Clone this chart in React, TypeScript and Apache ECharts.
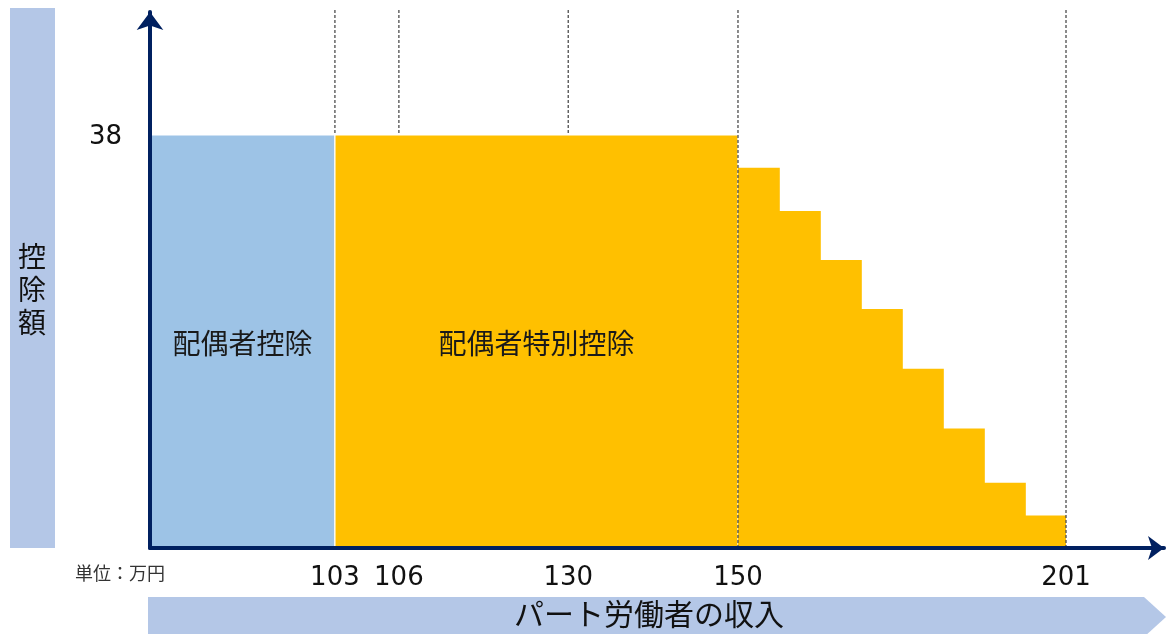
import React, { useEffect, useRef } from "react";
import * as echarts from "echarts";

// income tick labels (万円) and their schematic positions on the x axis
const incomeTicks = [103, 106, 130, 150, 201];
const tickPositions = [4.51, 6.07, 10.2, 14.34, 22.34];
// dashed guide lines: drawn behind bars (false) or in front (true)
const guideFront = [false, false, false, true, true];
// deduction values
const fullDeduction = 38;
const stepValues = [35, 31, 26.5, 22, 16.5, 11, 6, 3];
const segmentLabels = ["配偶者控除", "配偶者特別控除"];
const yTicks = [38];
const yTitleChars = ["控", "除", "額"];

const NAVY = "#002060";
const BLUE = "#9dc3e6";
const ORANGE = "#ffc000";
const PALE = "#b4c7e7";

export default function App() {
  const ref = useRef<HTMLDivElement>(null);
  useEffect(() => {
    document.body.style.margin = "0";
    const chart = echarts.init(ref.current!, null, { renderer: "svg" });
    const pos103 = tickPositions[0];
    const pos150 = tickPositions[3];
    const pos201 = tickPositions[4];
    const stepW = (pos201 - pos150) / stepValues.length;
    // [x0, x1, value, colourIndex, label, outlined]
    const bars: any[] = [
      [0, pos103, fullDeduction, 0, segmentLabels[0], 1],
      [pos103, pos150, fullDeduction, 1, segmentLabels[1], 1],
      ...stepValues.map((v, i) => [pos150 + i * stepW, pos150 + (i + 1) * stepW + (i < stepValues.length - 1 ? 0.02 : 0), v, 1, "", 0]),
    ];
    const back = tickPositions.filter((_, i) => !guideFront[i]).map((p) => [p]);
    const front = tickPositions.filter((_, i) => guideFront[i]).map((p) => [p]);
    const yMax = 49.32;
    const guideRender = (params: any, api: any) => {
      const x = api.value(0);
      const b = api.coord([x, 0]);
      const t = api.coord([x, yMax]);
      return {
        type: "line",
        shape: { x1: b[0], y1: b[1], x2: t[0], y2: t[1] - 4 },
        style: { stroke: "#4d4d4d", lineWidth: 1.3, lineDash: [3, 2] },
      };
    };
    chart.setOption({
      animation: false,
      grid: { left: 150, right: 2, top: 12, bottom: 86 },
      xAxis: {
        type: "value",
        min: 0,
        max: 24.73,
        z: 5,
        splitLine: { show: false },
        axisTick: { show: false },
        axisLine: {
          show: true,
          lineStyle: { color: NAVY, width: 4 },
          symbol: ["none", "arrow"],
          symbolSize: [18, 16],
        },
        axisLabel: {
          customValues: tickPositions,
          formatter: (v: number) => {
            let best = 0;
            tickPositions.forEach((p, i) => {
              if (Math.abs(p - v) < Math.abs(tickPositions[best] - v)) best = i;
            });
            return String(incomeTicks[best]);
          },
          fontFamily: "DejaVu Sans",
          fontSize: 26,
          color: "#111",
          margin: 15,
        },
      },
      yAxis: {
        type: "value",
        min: 0,
        max: yMax,
        z: 5,
        splitLine: { show: false },
        axisTick: { show: false },
        axisLine: {
          show: true,
          lineStyle: { color: NAVY, width: 4 },
          symbol: ["none", "arrow"],
          symbolSize: [20, 18],
        },
        axisLabel: {
          customValues: yTicks,
          fontFamily: "DejaVu Sans",
          fontSize: 26,
          color: "#111",
          margin: 28,
        },
      },
      series: [
        {
          type: "custom",
          z: 1,
          data: back,
          renderItem: guideRender,
        },
        {
          type: "custom",
          z: 2,
          data: bars,
          renderItem: (params: any, api: any) => {
            const x0 = api.value(0);
            const x1 = api.value(1);
            const v = api.value(2);
            const ci = api.value(3);
            const outlined = api.value(5) === 1;
            const p0 = api.coord([x0, v]);
            const p1 = api.coord([x1, 0]);
            const label = bars[params.dataIndex][4];
            return {
              type: "group",
              children: [
                {
                  type: "rect",
                  shape: { x: p0[0], y: p0[1], width: p1[0] - p0[0], height: p1[1] - p0[1] },
                  style: {
                    fill: ci === 0 ? BLUE : ORANGE,
                    stroke: outlined ? "#ffffff" : null,
                    lineWidth: outlined ? 1.2 : 0,
                  },
                },
                {
                  type: "text",
                  x: (p0[0] + p1[0]) / 2,
                  y: (p0[1] + p1[1]) / 2,
                  style: {
                    text: label,
                    fontFamily: "Noto Sans CJK JP",
                    fontSize: 28,
                    fill: "#1a1a1a",
                    align: "center",
                    verticalAlign: "middle",
                  },
                },
              ],
            };
          },
        },
        {
          type: "custom",
          z: 3,
          data: front,
          renderItem: guideRender,
        },
      ],
      graphic: [
        {
          type: "rect",
          left: 10,
          top: 8,
          shape: { width: 45, height: 540 },
          style: { fill: PALE },
        },
        ...yTitleChars.map((c, i) => ({
          type: "text",
          x: 32,
          y: 255 + i * 33,
          style: {
            text: c,
            fontFamily: "Noto Sans CJK JP",
            fontSize: 28,
            fill: "#111",
            align: "center",
            verticalAlign: "middle",
          },
        })),
        {
          type: "text",
          x: 75,
          y: 572,
          style: {
            text: "単位：万円",
            fontFamily: "Noto Sans CJK JP",
            fontSize: 18,
            fill: "#333",
            align: "left",
            verticalAlign: "middle",
          },
        },
        {
          type: "polygon",
          shape: {
            points: [
              [148, 597],
              [1144, 597],
              [1166, 617],
              [1144, 637],
              [148, 637],
            ],
          },
          style: { fill: PALE },
        },
        {
          type: "text",
          x: 649,
          y: 612,
          style: {
            text: "パート労働者の収入",
            fontFamily: "Noto Sans CJK JP",
            fontSize: 30,
            fill: "#111",
            align: "center",
            verticalAlign: "middle",
          },
        },
      ],
    });
    return () => chart.dispose();
  }, []);
  return (
    <div
      ref={ref}
      style={{ position: "fixed", left: 0, top: 0, width: 1166, height: 634 }}
    />
  );
}
